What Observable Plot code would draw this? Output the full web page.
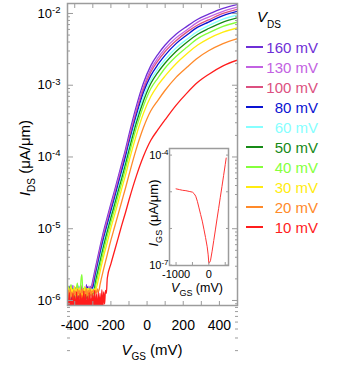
<!DOCTYPE html>
<html><head><meta charset="utf-8">
<script src="https://cdn.jsdelivr.net/npm/d3@7"></script>
<script src="https://cdn.jsdelivr.net/npm/@observablehq/plot@0.6"></script>
<style>
body{margin:0;background:#fff;}
#wrap{position:relative;width:346px;height:367px;overflow:hidden;}
#inset{position:absolute;left:140px;top:145px;}
</style></head><body><div id="wrap"><div id="main"></div><div id="inset"></div></div>
<script>
// ---- Data (log10 of I_DS in µA/µm) ----
const vdsLabels = ["160 mV","130 mV","100 mV","80 mV","60 mV","50 mV","40 mV","30 mV","20 mV","10 mV"];
const colors = ["#6e2fd6","#c262e2","#dc5080","#0a12d2","#86ffff","#168a16","#86ff3c","#ffec10","#ff8a2a","#ff1c1c"];

// noisy floor, sampled every 5 mV starting at -440 mV
const floorStart = -440, floorStep = 5;
const floor160 = [-5.84,-5.98,-5.80,-6.02,-5.88,-5.95,-5.79,-6.04,-5.86,-5.97,-5.82,-6.00,-5.90,-5.84,-6.03,-5.81,-5.96,-5.87,-6.01,-5.83,-5.93,-5.78,-5.99,-5.85,-5.91,-5.80,-5.86,-5.78];
const floor130 = [-5.88,-5.81,-6.01,-5.85,-5.97,-5.79,-6.03,-5.87,-5.94,-5.82,-6.00,-5.86,-5.80,-5.98,-5.84,-6.02,-5.89,-5.83,-5.96,-5.81,-6.01,-5.86,-5.92,-5.80,-5.97,-5.84,-5.82,-5.80];
const floor100 = [-5.83,-6.00,-5.86,-5.95,-5.80,-6.03,-5.88,-5.84,-5.99,-5.82,-5.96,-5.87,-5.81,-6.02,-5.85,-5.93,-5.79,-6.00,-5.88,-5.83,-5.97,-5.86,-5.81,-5.99,-5.84,-5.90,-5.83,-5.82];
const floor80  = [-5.98,-5.85,-5.93,-5.81,-6.01,-5.87,-5.83,-5.99,-5.84,-5.92,-5.86,-6.00,-5.82,-5.96,-5.80,-5.94,-5.87,-6.02,-5.83,-5.90,-5.85,-5.98,-5.81,-5.93,-5.86,-5.84,-5.88,-5.83];
const floor60  = [-5.81,-5.96,-5.84,-6.00,-5.85,-5.88,-6.02,-5.82,-5.90,-5.85,-5.98,-5.83,-5.89,-5.80,-6.01,-5.86,-5.92,-5.82,-5.97,-5.84,-5.88,-6.00,-5.83,-5.91,-5.85,-5.87,-5.84,-5.86];
const floor50  = [-5.93,-5.84,-5.98,-5.81,-5.92,-5.86,-6.00,-5.84,-5.88,-5.99,-5.83,-5.91,-5.85,-5.96,-5.82,-5.94,-5.87,-6.01,-5.84,-5.90,-5.83,-5.97,-5.86,-5.89,-5.84,-5.92,-5.88,-5.90];
const floor40  = [-5.88,-5.80,-5.96,-5.83,-5.78,-5.94,-5.84,-5.91,-5.85,-5.98,-5.82,-5.76,-5.93,-5.84,-5.88,-5.70,-5.64,-5.92,-5.86,-5.95,-5.82,-5.89,-5.84,-5.97,-5.83,-5.88,-5.86,-5.90];
const floor30  = [-5.90,-5.82,-5.98,-5.86,-5.81,-5.95,-5.84,-5.88,-5.80,-5.97,-5.85,-5.83,-5.94,-5.82,-5.88,-5.86,-5.99,-5.84,-5.90,-5.81,-5.96,-5.85,-5.87,-5.83,-5.93,-5.86,-5.84,-5.91,-5.85,-5.88,-5.84,-5.86];
const floor20  = [-5.93,-5.86,-6.00,-5.84,-5.95,-5.88,-6.01,-5.85,-5.92,-5.87,-5.99,-5.84,-5.91,-5.86,-5.97,-5.85,-5.90,-5.84,-5.96,-5.87,-5.89,-5.83,-5.98,-5.86,-5.91,-5.84,-5.94,-5.87,-5.88,-5.85,-5.92,-5.86,-5.90,-5.84,-5.88,-5.85];
const floor10  = [-5.92,-6.20,-5.89,-6.18,-5.95,-6.20,-5.90,-6.15,-5.94,-6.20,-5.88,-6.18,-5.93,-6.20,-5.90,-6.17,-5.92,-6.20,-5.87,-6.15,-5.91,-6.20,-5.94,-6.18,-5.89,-6.20,-5.92,-6.16,-5.90,-6.20,-5.86,-6.18,-5.91,-6.20,-5.88,-6.15,-5.90,-6.18,-5.85,-6.12,-5.88,-6.05,-5.86,-5.90];

// turn-on part
const riseVgs = [-300,-280,-260,-240,-220,-200,-180,-160,-140,-120,-100,-60,-20,20,60,100,160,220,280,340,420,500];
const rise160 = [-5.72,-5.48,-5.25,-5.03,-4.84,-4.65,-4.47,-4.28,-4.09,-3.90,-3.69,-3.30,-2.97,-2.73,-2.57,-2.44,-2.29,-2.18,-2.08,-2.01,-1.93,-1.875];
const rise130 = [-5.76,-5.52,-5.29,-5.07,-4.88,-4.69,-4.51,-4.32,-4.13,-3.94,-3.74,-3.35,-3.02,-2.78,-2.62,-2.49,-2.34,-2.23,-2.12,-2.05,-1.97,-1.91];
const rise100 = [-5.79,-5.56,-5.33,-5.11,-4.92,-4.73,-4.55,-4.36,-4.17,-3.98,-3.77,-3.39,-3.06,-2.82,-2.66,-2.53,-2.38,-2.26,-2.16,-2.09,-2.00,-1.94];
const rise80  = [-5.82,-5.59,-5.36,-5.14,-4.95,-4.76,-4.58,-4.39,-4.20,-4.01,-3.81,-3.43,-3.10,-2.87,-2.71,-2.58,-2.42,-2.30,-2.19,-2.12,-2.03,-1.97];
const rise60  = [-5.87,-5.64,-5.41,-5.19,-5.00,-4.81,-4.63,-4.44,-4.25,-4.07,-3.86,-3.48,-3.16,-2.93,-2.77,-2.64,-2.48,-2.36,-2.25,-2.17,-2.08,-2.02];
const rise50  = [-5.91,-5.68,-5.46,-5.24,-5.04,-4.85,-4.67,-4.48,-4.30,-4.11,-3.91,-3.53,-3.22,-2.98,-2.82,-2.69,-2.53,-2.40,-2.29,-2.21,-2.12,-2.06];
const rise40  = [-5.97,-5.74,-5.52,-5.30,-5.10,-4.91,-4.73,-4.54,-4.36,-4.17,-3.97,-3.60,-3.29,-3.05,-2.90,-2.76,-2.60,-2.47,-2.35,-2.27,-2.18,-2.12];
const rise30  = [-6.05,-5.82,-5.60,-5.38,-5.19,-4.99,-4.81,-4.63,-4.44,-4.26,-4.06,-3.70,-3.39,-3.16,-3.00,-2.87,-2.70,-2.56,-2.44,-2.35,-2.26,-2.20];
const rise20  = [-6.21,-5.99,-5.78,-5.56,-5.36,-5.16,-4.98,-4.80,-4.62,-4.44,-4.25,-3.89,-3.59,-3.36,-3.21,-3.07,-2.89,-2.75,-2.62,-2.52,-2.42,-2.35];
const rise10  = [-6.52,-6.32,-6.11,-5.89,-5.69,-5.49,-5.31,-5.13,-4.95,-4.78,-4.60,-4.27,-3.99,-3.77,-3.62,-3.48,-3.28,-3.11,-2.96,-2.85,-2.73,-2.65];

const floors = [floor160,floor130,floor100,floor80,floor60,floor50,floor40,floor30,floor20,floor10];
const rises  = [rise160,rise130,rise100,rise80,rise60,rise50,rise40,rise30,rise20,rise10];

const xTicks = [-400,-300,-200,-100,0,100,200,300,400,500];
const xTickLabels = [-400,-200,0,200,400];
const yMajor = [1e-6,1e-5,1e-4,1e-3,1e-2];

// inset: I_GS vs V_GS
const igsVgs = [-1000,-900,-800,-700,-600,-500,-450,-400,-350,-300,-250,-200,-150,-100,-50,-20,0,20,50,100,150,200,250,300,350,400,450,500,530];
const igsLog = [-4.92,-4.94,-4.96,-4.97,-4.99,-5.01,-5.05,-5.12,-5.26,-5.44,-5.62,-5.80,-6.02,-6.25,-6.50,-6.72,-6.95,-6.93,-6.88,-6.62,-6.33,-6.04,-5.74,-5.45,-5.15,-4.86,-4.56,-4.26,-4.08];
const insetXTicks = [-1000,-500,0,500];
const insetXLabels = [-1000,0];
const insetYTicks = [1e-7,1e-6,1e-5,1e-4];
const insetYLabels = [1e-7,1e-4];

// ---- build rows ----
const rows = [];
vdsLabels.forEach((label, k) => {
  const fl = floors[k];
  const fEnd = floorStart + floorStep * (fl.length - 1);
  fl.forEach((v, i) => rows.push({vds: label, vgs: floorStart + floorStep * i, ids: 10 ** v}));
  riseVgs.forEach((g, i) => { if (g > fEnd) rows.push({vds: label, vgs: g, ids: 10 ** rises[k][i]}); });
});
const igsRows = igsVgs.map((g, i) => ({vgs: g, igs: 10 ** igsLog[i]}));

const frameColor = "#9c9c9c";
const font = "'Liberation Sans', Arial, Helvetica, sans-serif";
const expFmt = d => "10^" + Math.round(Math.log10(d));
const blank = () => "";
const yMinor = [];
for (let e = -7; e <= -2; e++) for (let m = 2; m <= 9; m++) yMinor.push(m * 10 ** e);

const chart = Plot.plot({
  width: 346, height: 367,
  marginLeft: 67, marginRight: 109, marginTop: 3, marginBottom: 62,
  style: {fontFamily: font, fontSize: "14px", color: "#000", background: "transparent"},
  x: {domain: [-440, 500], label: null},
  y: {type: "log", domain: [10 ** -6.07, 10 ** -1.861], label: null},
  color: {domain: vdsLabels, range: colors},
  marks: [
    Plot.line(rows, {x: "vgs", y: "ids", z: "vds", stroke: "vds", strokeWidth: 1.3, curve: "monotone-x", clip: true}),
    Plot.frame({stroke: frameColor, strokeWidth: 1.5}),
    Plot.axisX({anchor: "bottom", ticks: xTicks, tickSize: 4, dy: -4, tickFormat: blank, stroke: frameColor, label: null}),
    Plot.axisX({anchor: "top", ticks: xTicks, tickSize: 4, dy: 4, tickFormat: blank, stroke: frameColor, label: null}),
    Plot.axisX({anchor: "bottom", ticks: xTickLabels, tickSize: 0, tickPadding: 15, tickFormat: d => String(d), fill: "#000", label: null}),
    Plot.axisY({anchor: "left", ticks: yMajor, tickSize: 6, dx: 6, tickFormat: blank, stroke: frameColor, label: null}),
    Plot.axisY({anchor: "left", ticks: yMinor, tickSize: 3, dx: 3, tickFormat: blank, stroke: frameColor, label: null}),
    Plot.axisY({anchor: "right", ticks: yMajor, tickSize: 6, dx: -6, tickFormat: blank, stroke: frameColor, label: null}),
    Plot.axisY({anchor: "right", ticks: yMinor, tickSize: 3, dx: -3, tickFormat: blank, stroke: frameColor, label: null}),
    Plot.axisY({anchor: "left", ticks: yMajor, tickSize: 0, tickPadding: 7, tickFormat: expFmt, fill: "#000", fontSize: 13, label: null})
  ]
});

const inset = Plot.plot({
  width: 95, height: 155,
  marginLeft: 29, marginRight: 7, marginTop: 3, marginBottom: 35,
  style: {fontFamily: font, fontSize: "11px", color: "#000", background: "transparent", overflow: "visible"},
  x: {domain: [-1200, 600], label: null},
  y: {type: "log", domain: [10 ** -7.01, 10 ** -3.82], label: null},
  marks: [
    Plot.line(igsRows, {x: "vgs", y: "igs", stroke: "#ff3434", strokeWidth: 1, clip: true}),
    Plot.frame({stroke: frameColor, strokeWidth: 1.5}),
    Plot.axisY({anchor: "left", ticks: insetYTicks, tickSize: 3, dx: 3, tickFormat: blank, stroke: frameColor, label: null}),
    Plot.axisY({anchor: "right", ticks: insetYTicks, tickSize: 3, dx: -3, tickFormat: blank, stroke: frameColor, label: null}),
    Plot.axisX({anchor: "bottom", ticks: insetXTicks, tickSize: 3, dy: -3, tickFormat: blank, stroke: frameColor, label: null}),
    Plot.axisY({anchor: "left", ticks: insetYLabels, tickSize: 0, tickPadding: 1, tickFormat: expFmt, fill: "#000", fontSize: 11, label: null}),
    Plot.axisX({anchor: "bottom", ticks: insetXLabels, tickSize: 0, tickPadding: 5, tickFormat: d => String(d), fill: "#000", fontSize: 11, label: null})
  ]
});

// ---- superscripts for power-of-ten labels ----
function supLabels(root, size) {
  root.querySelectorAll('g[aria-label="y-axis tick label"] text').forEach(t => {
    const parts = t.textContent.split("^");
    if (parts.length !== 2) return;
    t.textContent = parts[0];
    const s = document.createElementNS("http://www.w3.org/2000/svg", "tspan");
    s.setAttribute("dy", "-0.5em");
    s.setAttribute("font-size", size);
    s.textContent = parts[1];
    t.appendChild(s);
  });
}
supLabels(chart, 9.5);
supLabels(inset, 8);

// ---- axis titles ----
function subLabel(sel, main, sub, rest, subSize, shift) {
  sel.append("tspan").attr("font-style", "italic").text(main);
  sel.append("tspan").attr("font-size", subSize).attr("dy", shift).text(sub);
  sel.append("tspan").attr("dy", -shift).text(rest);
}
const svg = d3.select(chart).style("font-family", font);
subLabel(svg.append("text").attr("x", 152).attr("y", 355).attr("text-anchor", "middle").attr("font-size", 15),
  "V", "GS", " (mV)", 10, 5);
subLabel(svg.append("text").attr("transform", "translate(30,158) rotate(-90)").attr("text-anchor", "middle").attr("font-size", 15),
  "I", "DS", " (μA/μm)", 10, 5);

// ---- legend ----
const lg = svg.append("g");
const hdr = lg.append("text").attr("x", 269).attr("y", 22).attr("font-size", 15);
hdr.append("tspan").attr("font-style", "italic").text("V");
hdr.append("tspan").attr("font-size", 10).attr("dy", 6).text("DS");
vdsLabels.forEach((label, i) => {
  const y = 47 + 20 * i;
  lg.append("line").attr("x1", 246).attr("x2", 263).attr("y1", y).attr("y2", y)
    .attr("stroke", colors[i]).attr("stroke-width", 2);
  lg.append("text").attr("x", 318).attr("y", y + 5.5).attr("text-anchor", "end")
    .attr("font-size", 15).attr("fill", colors[i]).text(label);
});

const isvg = d3.select(inset).style("font-family", font);
subLabel(isvg.append("text").attr("x", 57).attr("y", 147).attr("text-anchor", "middle").attr("font-size", 12.5),
  "V", "GS", " (mV)", 9, 4);
subLabel(isvg.append("text").attr("transform", "translate(18,68) rotate(-90)").attr("text-anchor", "middle").attr("font-size", 13),
  "I", "GS", " (μA/μm)", 9, 4);

document.getElementById("main").appendChild(chart);
document.getElementById("inset").appendChild(inset);
</script></body></html>
